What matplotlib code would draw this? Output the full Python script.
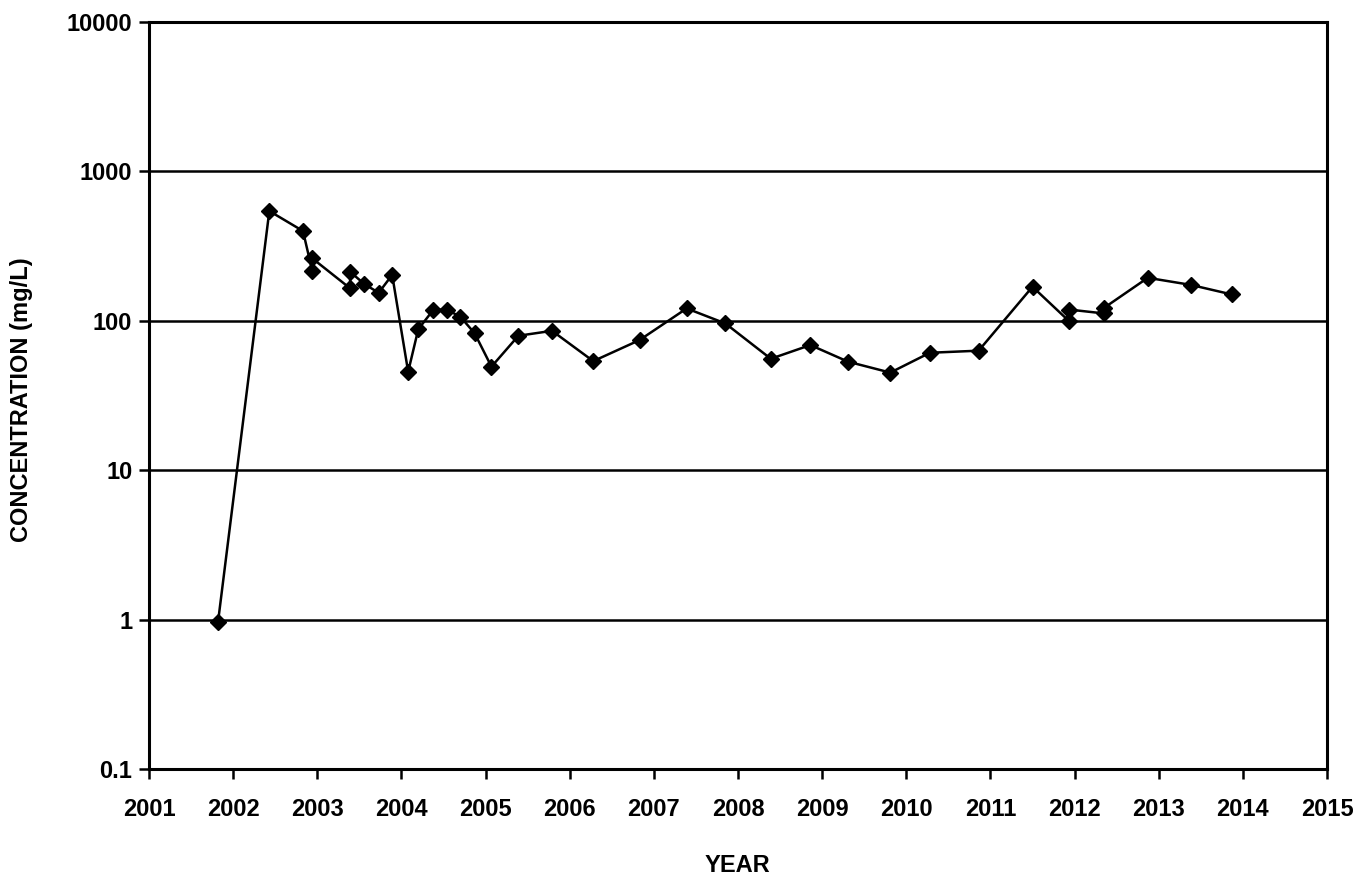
import numpy as np
import matplotlib.pyplot as plt
from matplotlib.ticker import FixedLocator, FixedFormatter, NullLocator

# sample dates (decimal years) and measured concentration (mg/L)
years = [2001.82, 2002.43, 2002.83, 2002.94, 2002.94, 2003.39, 2003.39, 2003.56,
         2003.73, 2003.89, 2004.08, 2004.20, 2004.38, 2004.54, 2004.70, 2004.87,
         2005.07, 2005.39, 2005.79, 2006.28, 2006.83, 2007.39, 2007.85, 2008.39,
         2008.86, 2009.31, 2009.81, 2010.28, 2010.86, 2011.50, 2011.93, 2011.93,
         2012.35, 2012.35, 2012.87, 2013.38, 2013.87]
conc = [0.96, 543, 399, 216, 262, 165, 213, 176,
        154, 203, 45.6, 87.7, 118.7, 118.7, 106.5, 82.5,
        49.3, 79.4, 85.7, 53.7, 74.3, 121, 96, 55.7,
        68.8, 53.2, 45.0, 61.1, 63.1, 169, 100, 119,
        112, 122, 194, 174, 150]

x_ticks = list(range(2001, 2016))
y_ticks = [0.1, 1, 10, 100, 1000, 10000]
y_labels = ["0.1", "1", "10", "100", "1000", "10000"]

plt.rcParams['font.family'] = ['Liberation Sans', 'DejaVu Sans']
plt.rcParams['font.weight'] = 'bold'

fig = plt.figure(figsize=(13.7, 8.8), dpi=100)
ax = fig.add_axes([149 / 1370, 1 - 769 / 880, 1178 / 1370, 747 / 880])

ax.set_yscale('log')
ax.set_xlim(2001, 2015)
ax.set_ylim(0.1, 10000)

for y in y_ticks[1:-1]:
    ax.axhline(y, color='black', lw=1.8, zorder=1)

ax.plot(years, conc, color='black', lw=1.8, marker='D', markersize=8,
        markerfacecolor='black', markeredgecolor='black', zorder=3)

ax.xaxis.set_major_locator(FixedLocator(x_ticks))
ax.yaxis.set_major_locator(FixedLocator(y_ticks))
ax.yaxis.set_major_formatter(FixedFormatter(y_labels))
ax.yaxis.set_minor_locator(NullLocator())

ax.tick_params(axis='both', direction='out', length=7, width=1.8, labelsize=17)
ax.tick_params(axis='x', pad=14)
ax.tick_params(axis='y', pad=5)
for lab in ax.get_xticklabels() + ax.get_yticklabels():
    lab.set_fontweight('bold')

for s in ax.spines.values():
    s.set_linewidth(2.2)
    s.set_color('black')

fig.text(22 / 1370, 1 - 400 / 880, "CONCENTRATION (mg/L)", rotation=90,
         ha='center', va='center', fontsize=17, fontweight='bold')
fig.text(737 / 1370, 1 - 865 / 880, "YEAR", ha='center', va='center',
         fontsize=17, fontweight='bold')

fig.savefig('out.png', dpi=100)
